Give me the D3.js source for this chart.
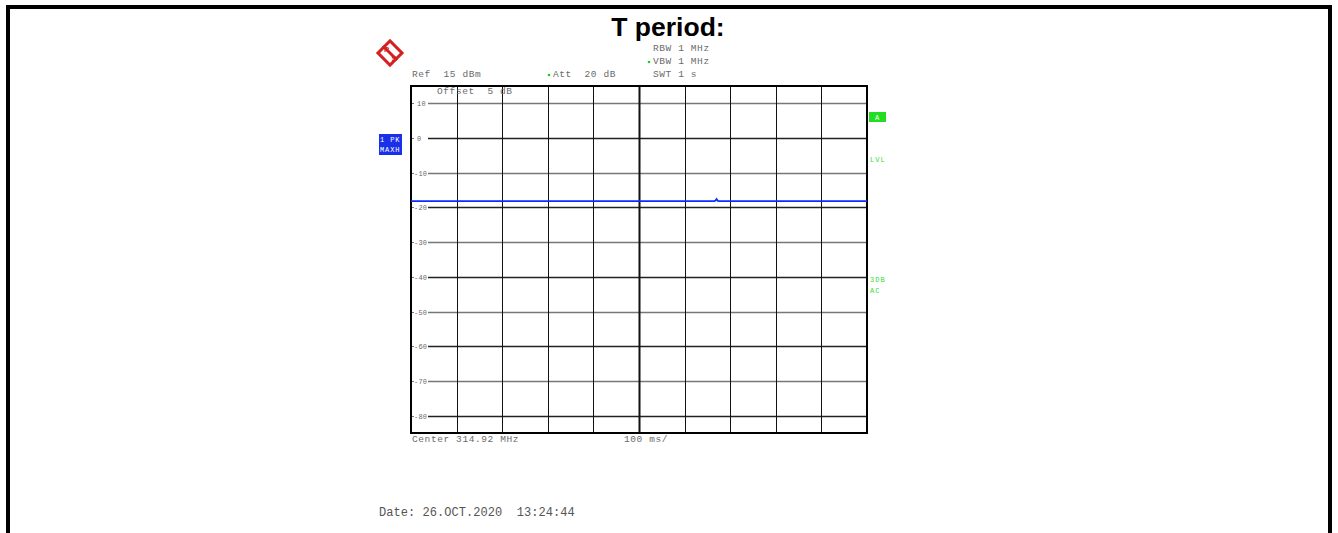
<!DOCTYPE html>
<html>
<head>
<meta charset="utf-8">
<script src="https://cdn.jsdelivr.net/npm/d3@7"></script>
<style>
  body { margin: 0; background: #fff; }
  svg { display: block; }
  .mono { font-family: "Liberation Mono", "DejaVu Sans Mono", monospace; font-size: 9.5px; fill: #6a6a6a; letter-spacing: 0.6px; white-space: pre; }
</style>
</head>
<body>
<svg width="1338" height="533"></svg>
<script>
// analyzer settings
const refLevel = 15;
const levelTicks = [10, 0, -10, -20, -30, -40, -50, -60, -70, -80];
const timeDivs = [0, 100, 200, 300, 400, 500, 600, 700, 800, 900, 1000];

// trace (ms, dBm)
const traceTime = [0, 665, 668, 670, 673, 676, 1000];
const traceLevel = [-18.2, -18.2, -18.0, -17.6, -18.1, -18.2, -18.2];

const headerTop = ["RBW 1 MHz", "VBW 1 MHz", "SWT 1 s"];

let svg = d3.select("svg");

// outer frame
svg.append("path")
  .attr("d", `M8,533 V7 H1330 V533`)
  .attr("fill", "none")
  .attr("stroke", "#000")
  .attr("stroke-width", 4);

svg.append("text")
  .attr("x", 668).attr("y", 36)
  .attr("text-anchor", "middle")
  .attr("font-family", "Liberation Sans, Arial, sans-serif")
  .attr("font-weight", "bold")
  .attr("font-size", 26.5)
  .text("T period:");

const pLeft = 411, pRight = 867, pTop = 86, pBottom = 433;

let x = d3.scaleLinear().domain([0, 1000]).range([pLeft, pRight]);
let y = d3.scaleLinear().domain([refLevel, refLevel - 100]).range([pTop, pBottom]);

// horizontal grid with inside labels
let hg = svg.append("g").selectAll("g").data(levelTicks).enter().append("g");
hg.append("line")
  .attr("x1", pLeft + 17).attr("x2", pRight)
  .attr("y1", d => Math.round(y(d)) + 0.5).attr("y2", d => Math.round(y(d)) + 0.5)
  .attr("stroke", (d, i) => i % 2 === 0 ? "#777" : "#222")
  .attr("stroke-width", 1.5);
hg.append("line")
  .attr("x1", pLeft).attr("x2", pLeft + 3)
  .attr("y1", d => Math.round(y(d)) + 0.5).attr("y2", d => Math.round(y(d)) + 0.5)
  .attr("stroke", "#777");
hg.append("text")
  .attr("class", "mono")
  .attr("x", d => d < 0 ? pLeft + 3 : pLeft + 6)
  .attr("y", d => y(d) + 3)
  .style("font-size", "7px")
  .style("letter-spacing", "0.2px")
  .text(d => d3.format("")(d).replace("\u2212", "-"));

// vertical grid
svg.append("g").selectAll("line").data(timeDivs.slice(1, -1)).enter().append("line")
  .attr("x1", d => Math.round(x(d)) + 0.5).attr("x2", d => Math.round(x(d)) + 0.5)
  .attr("y1", pTop).attr("y2", pBottom)
  .attr("stroke", "#111")
  .attr("stroke-width", d => d === 500 ? 2 : 1);

// plot border
svg.append("rect")
  .attr("x", pLeft).attr("y", pTop)
  .attr("width", pRight - pLeft).attr("height", pBottom - pTop)
  .attr("fill", "none")
  .attr("stroke", "#000")
  .attr("stroke-width", 2);

// trace
let line = d3.line().x((d, i) => x(traceTime[i])).y(d => y(d));
svg.append("path")
  .attr("d", line(traceLevel))
  .attr("fill", "none")
  .attr("stroke", "#0a2cff")
  .attr("stroke-width", 1.8);

// header texts
svg.append("text").attr("class", "mono").attr("x", 412).attr("y", 77).text("Ref  15 dBm");
svg.append("text").attr("class", "mono").attr("x", 553).attr("y", 77).text("Att  20 dB");
svg.append("text").attr("class", "mono").attr("x", 437).attr("y", 94).text("Offset  5 dB");
svg.append("g").selectAll("text").data(headerTop).enter().append("text")
  .attr("class", "mono")
  .attr("x", 653)
  .attr("y", (d, i) => 51 + i * 13)
  .text(d => d);
[[549, 75], [649, 62]].forEach(p => {
  svg.append("circle").attr("cx", p[0]).attr("cy", p[1]).attr("r", 1.3).attr("fill", "#22cc22");
});

svg.append("text").attr("class", "mono").attr("x", 412).attr("y", 442).text("Center 314.92 MHz");
svg.append("text").attr("class", "mono").attr("x", 624).attr("y", 442).text("100 ms/");
svg.append("text").attr("class", "mono").attr("x", 379).attr("y", 516)
  .style("font-size", "12px").style("letter-spacing", "0.05px").style("fill", "#555")
  .text("Date: 26.OCT.2020  13:24:44");

// trace info box
svg.append("rect").attr("x", 379).attr("y", 134).attr("width", 23).attr("height", 21).attr("fill", "#1a2fe8");
svg.append("text").attr("class", "mono").attr("x", 380).attr("y", 142)
  .style("font-size", "7px").style("letter-spacing", "0.9px").style("fill", "#fff").text("1 PK");
svg.append("text").attr("class", "mono").attr("x", 380).attr("y", 152)
  .style("font-size", "7px").style("letter-spacing", "0.9px").style("fill", "#fff").text("MAXH");

// right side status
svg.append("rect").attr("x", 869).attr("y", 112).attr("width", 17).attr("height", 10).attr("fill", "#22dd22");
svg.append("text").attr("class", "mono").attr("x", 875).attr("y", 120)
  .style("font-size", "7px").style("fill", "#fff").text("A");
[["LVL", 162], ["3DB", 282], ["AC", 293]].forEach(t => {
  svg.append("text").attr("class", "mono").attr("x", 870).attr("y", t[1])
    .style("font-size", "7px").style("letter-spacing", "1px").style("fill", "#33dd33").text(t[0]);
});

// R&S logo
let logo = svg.append("g").attr("transform", "translate(390,53)");
logo.append("rect").attr("x", -8.5).attr("y", -8.5).attr("width", 17).attr("height", 17)
  .attr("transform", "rotate(45)")
  .attr("fill", "#fff").attr("stroke", "#d42020").attr("stroke-width", 3);
logo.append("line").attr("x1", -7).attr("y1", -7).attr("x2", 7).attr("y2", 7)
  .attr("stroke", "#d42020").attr("stroke-width", 3);
logo.append("text").attr("x", -6).attr("y", -1).attr("font-size", 7.5).attr("font-weight", "bold")
  .attr("font-family", "Liberation Sans, sans-serif").attr("fill", "#d42020").text("R");
logo.append("text").attr("x", 1.5).attr("y", 7.5).attr("font-size", 7.5).attr("font-weight", "bold")
  .attr("font-family", "Liberation Sans, sans-serif").attr("fill", "#d42020").text("S");
</script>
</body>
</html>
